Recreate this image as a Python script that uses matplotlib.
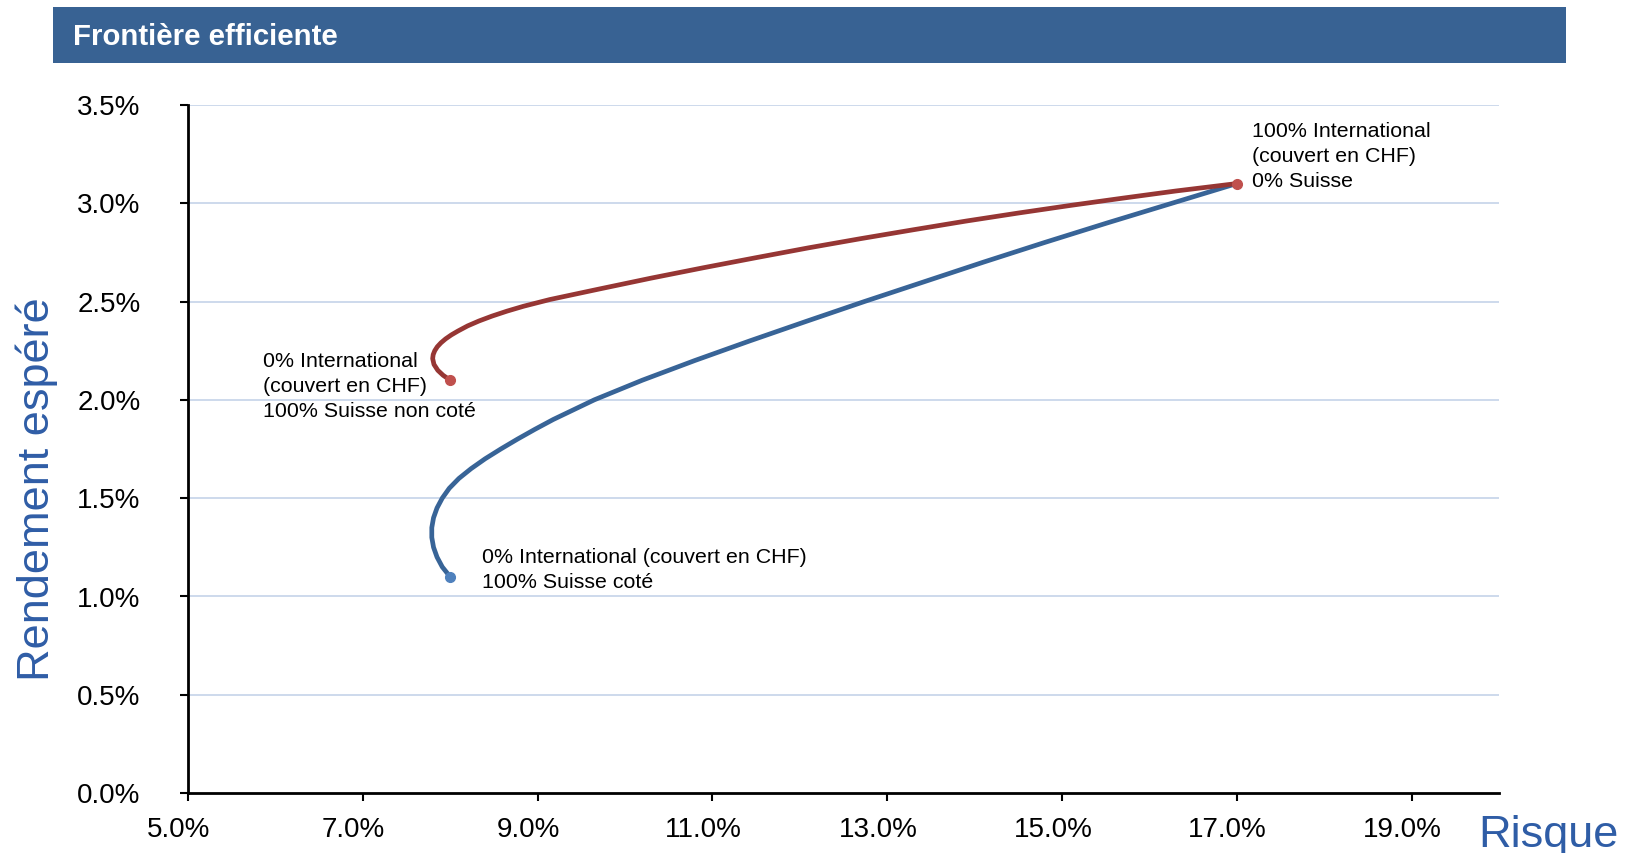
import matplotlib
matplotlib.use("Agg")
import matplotlib.pyplot as plt
import matplotlib.transforms as mtransforms
from matplotlib.patches import Rectangle

plt.rcParams['font.family'] = ['Liberation Sans', 'DejaVu Sans']

# --------------------------------------------
# Data (risk %, expected return %)
# --------------------------------------------
# blue: International (hedged CHF) vs Suisse coté
blue_risk = [8.00, 7.91, 7.85, 7.81, 7.79, 7.79, 7.81, 7.85, 7.91, 7.99, 8.10, 8.24,
             8.40, 8.58, 8.77, 8.97, 9.18, 9.65, 10.20, 10.80, 11.43, 12.08,
             12.74, 13.42, 14.10, 14.80, 15.52, 16.26, 17.00]
blue_ret = [1.10, 1.15, 1.20, 1.25, 1.30, 1.35, 1.40, 1.45, 1.50, 1.55, 1.60, 1.65,
            1.70, 1.75, 1.80, 1.85, 1.90, 2.00, 2.10, 2.20, 2.30, 2.40,
            2.50, 2.60, 2.70, 2.80, 2.90, 3.00, 3.10]

# red: International (hedged CHF) vs Suisse non coté
red_risk = [8.00, 7.919, 7.859, 7.815, 7.80, 7.806, 7.824, 7.853, 7.895, 7.948, 8.013,
            8.09, 8.20, 8.33, 8.48, 8.65, 8.84, 8.99, 9.14, 9.71, 10.30, 10.90,
            11.50, 12.10, 12.70, 13.30, 13.90, 14.50, 15.10, 15.70, 16.30, 17.00]
red_ret = [2.10, 2.125, 2.15, 2.18, 2.21, 2.23, 2.25, 2.27, 2.29, 2.31, 2.33,
           2.35, 2.376, 2.401, 2.426, 2.451, 2.476, 2.493, 2.51, 2.564, 2.619, 2.672,
           2.723, 2.773, 2.820, 2.865, 2.909, 2.950, 2.989, 3.026, 3.062, 3.10]

x_ticks = [5, 7, 9, 11, 13, 15, 17, 19]
y_ticks = [0.0, 0.5, 1.0, 1.5, 2.0, 2.5, 3.0, 3.5]

label_blue = "0% International (couvert en CHF)\n100% Suisse coté"
label_red = "0% International\n(couvert en CHF)\n100% Suisse non coté"
label_top = "100% International\n(couvert en CHF)\n0% Suisse"

BLUE_LINE = '#386497'
BLUE_DOT = '#4F81BD'
RED_LINE = '#963634'
RED_DOT = '#C0504D'
AXIS_BLUE = '#2F5DA6'

# --------------------------------------------
# Figure
# --------------------------------------------
fig = plt.figure(figsize=(16.3, 8.531), dpi=100)

# title bar
fig.patches.append(Rectangle((0.0325, 0.9257), 0.9282, 0.0657, transform=fig.transFigure,
                             facecolor='#386293', edgecolor='none', zorder=0))
fig.text(0.045, 0.957, "Frontière efficiente", color='white', fontsize=21.2,
         fontweight='bold', va='center', ha='left')

ax = fig.add_axes([0.1153, 0.0703, 0.8043, 0.8066])

for yv in y_ticks[1:]:
    ax.axhline(yv, color='#C9D7EB', lw=1.3, zorder=1)

ax.plot(blue_risk, blue_ret, color=BLUE_LINE, lw=3.4, solid_capstyle='round',
        solid_joinstyle='round', zorder=3)
ax.plot(red_risk, red_ret, color=RED_LINE, lw=3.4, solid_capstyle='round',
        solid_joinstyle='round', zorder=4)
ax.plot(blue_risk[0], blue_ret[0], 'o', color=BLUE_DOT, ms=7, zorder=5)
ax.plot(red_risk[0], red_ret[0], 'o', color=RED_DOT, ms=7, zorder=5)
ax.plot(red_risk[-1], red_ret[-1], 'o', color=RED_DOT, ms=7, zorder=5)

ax.text(8.36, 1.135, label_blue, fontsize=15.4, va='center', ha='left', linespacing=1.4)
ax.text(5.86, 2.07, label_red, fontsize=15.4, va='center', ha='left', linespacing=1.4)
ax.text(17.18, 3.24, label_top, fontsize=15.4, va='center', ha='left', linespacing=1.4)

ax.set_xlim(5, 20)
ax.set_ylim(0, 3.5)
ax.set_xticks(x_ticks)
ax.set_xticklabels([f"{v:.1f}%" for v in x_ticks])
ax.set_yticks(y_ticks)
ax.set_yticklabels([f"{v:.1f}%" for v in y_ticks])

for side in ['top', 'right']:
    ax.spines[side].set_visible(False)
for side in ['left', 'bottom']:
    ax.spines[side].set_linewidth(2)
    ax.spines[side].set_zorder(6)

ax.tick_params(axis='both', direction='out', length=6, width=1.5, labelsize=20)
ax.tick_params(axis='y', pad=28)
ax.tick_params(axis='x', pad=11)

# x tick labels sit slightly left of their ticks in the original
shift = mtransforms.ScaledTranslation(-0.09, 0, fig.dpi_scale_trans)
for lab in ax.get_xticklabels():
    lab.set_transform(lab.get_transform() + shift)

fig.text(0.0225, 0.427, "Rendement espéré", rotation=90, color=AXIS_BLUE,
         fontsize=32.5, va='center', ha='center')
fig.text(0.907, 0.021, "Risque", color=AXIS_BLUE, fontsize=32.5, va='center', ha='left')

fig.savefig("out.png", dpi=100)
